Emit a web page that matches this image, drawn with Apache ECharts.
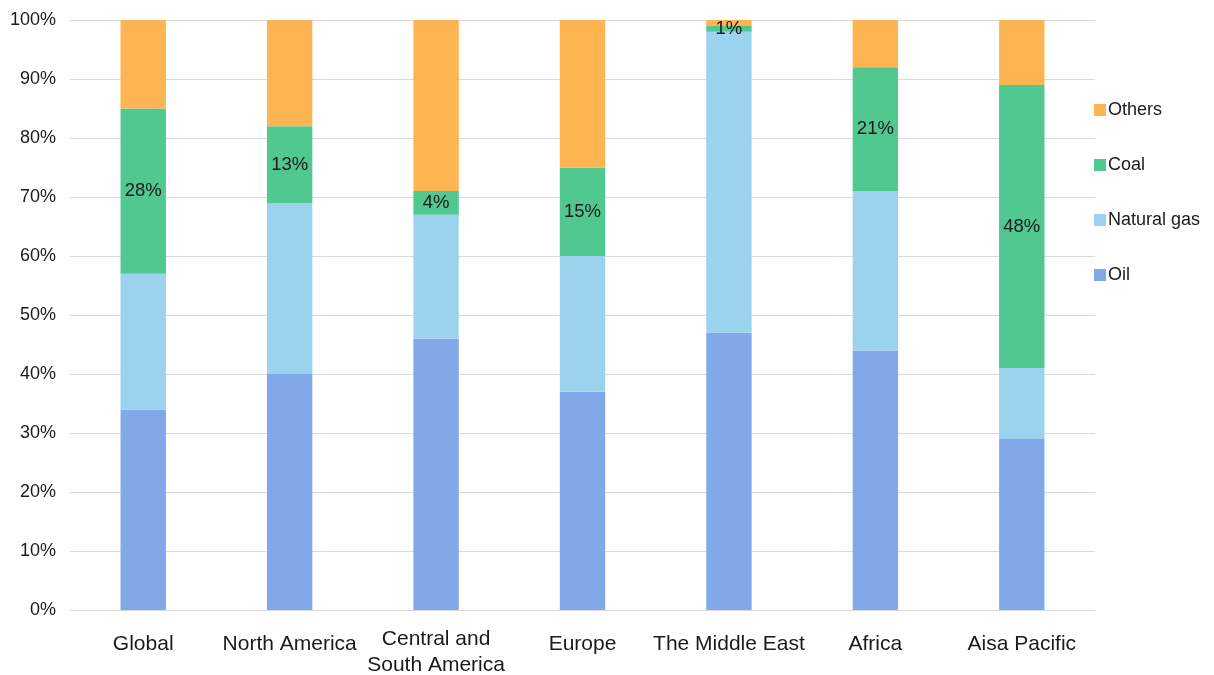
<!DOCTYPE html>
<html>
<head>
<meta charset="utf-8">
<script src="https://cdn.jsdelivr.net/npm/echarts@6/dist/echarts.min.js"></script>
<style>
  html, body { margin: 0; padding: 0; background: #fff; }
  #chart { width: 1214px; height: 675px; }
</style>
</head>
<body>
<div id="chart"></div>
<script>
// Energy mix by region (share of primary energy, %)
const regions = ['Global', 'North America', 'Central and\nSouth America', 'Europe', 'The Middle East', 'Africa', 'Aisa Pacific'];
const oil        = [34, 40, 46, 37, 47, 44, 29];
const naturalGas = [23, 29, 21, 23, 51, 27, 12];
const coal       = [28, 13, 4, 15, 1, 21, 48];
const others     = [15, 18, 29, 25, 1, 8, 11];
const yTicks = [0, 10, 20, 30, 40, 50, 60, 70, 80, 90, 100];

const colors = {
  oil: '#81a9e9',
  gas: '#9bd3ee',
  coal: '#50c88f',
  others: '#fdb453'
};

const chart = echarts.init(document.getElementById('chart'), null, { renderer: 'canvas' });

const barWidth = '31%';
function makeSeries(name, data, color, withLabel) {
  return {
    name: name,
    type: 'bar',
    stack: 'total',
    barWidth: barWidth,
    data: data,
    itemStyle: { color: color },
    label: withLabel ? {
      show: true,
      position: 'inside',
      formatter: '{c}%',
      color: '#1a1a1a',
      fontSize: 18.5,
      fontFamily: 'Liberation Sans, Arial, sans-serif'
    } : { show: false },
    emphasis: { disabled: true }
  };
}

// single-line names sit a little lower than the two-line one
function categoryLabel(value) {
  const lines = value.split('\n');
  if (lines.length > 1) {
    return lines.map(l => '{m|' + l + '}').join('\n');
  }
  return '{s|' + value + '}';
}

chart.setOption({
  animation: false,
  backgroundColor: '#ffffff',
  textStyle: { fontFamily: 'Liberation Sans, Arial, sans-serif' },
  grid: {
    left: 70, right: 119, top: 20, bottom: 65,
    containLabel: false,
    outerBoundsMode: 'none'
  },
  legend: {
    orient: 'vertical',
    left: 1089,
    top: 96,
    itemWidth: 12,
    itemHeight: 12,
    itemGap: 37,
    icon: 'rect',
    data: ['Others', 'Coal', 'Natural gas', 'Oil'],
    textStyle: { fontSize: 18, color: '#1a1a1a', padding: [0, 0, 0, -3] }
  },
  xAxis: {
    type: 'category',
    data: regions,
    axisLine: { show: false },
    axisTick: { show: false },
    axisLabel: {
      interval: 0,
      fontSize: 21,
      color: '#1a1a1a',
      margin: 16,
      formatter: categoryLabel,
      rich: {
        s: { fontSize: 21, color: '#1a1a1a', lineHeight: 36 },
        m: { fontSize: 21, color: '#1a1a1a', lineHeight: 26 }
      }
    }
  },
  yAxis: {
    type: 'value',
    min: yTicks[0],
    max: yTicks[yTicks.length - 1],
    interval: 10,
    axisLine: { show: false },
    axisTick: { show: false },
    axisLabel: {
      formatter: '{value}%',
      fontSize: 18,
      color: '#1a1a1a',
      margin: 14
    },
    splitLine: { lineStyle: { color: '#d9d9d9', width: 1 } }
  },
  series: [
    makeSeries('Oil', oil, colors.oil, false),
    makeSeries('Natural gas', naturalGas, colors.gas, false),
    makeSeries('Coal', coal, colors.coal, true),
    makeSeries('Others', others, colors.others, false)
  ]
});
</script>
</body>
</html>
